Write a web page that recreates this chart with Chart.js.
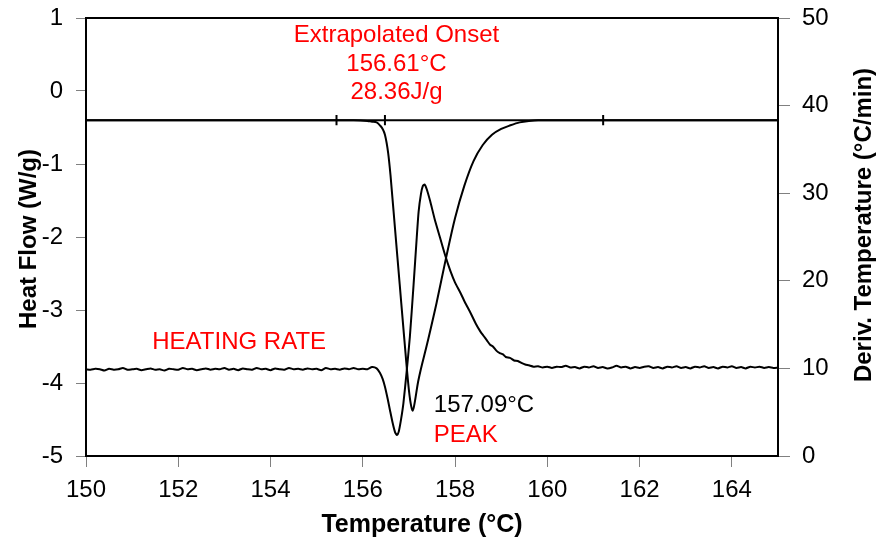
<!DOCTYPE html>
<html>
<head>
<meta charset="utf-8">
<script src="https://cdn.jsdelivr.net/npm/chart.js@4.4.1/dist/chart.umd.min.js"></script>
<style>
  html, body { margin: 0; padding: 0; background: #fff; }
  #wrap { width: 883px; height: 540px; }
</style>
</head>
<body>
<div id="wrap"><canvas id="dsc"></canvas></div>
<script>
// heat flow curve (left axis, W/g)
const hfTemp = [150, 155.8, 156.1, 156.2, 156.3, 156.37, 156.43, 156.48, 156.55, 156.6, 156.7, 156.8, 156.9, 157.0, 157.05, 157.08,
    157.11, 157.2, 157.4, 157.6, 157.8, 158.0, 158.2, 158.4, 158.6, 158.8, 159.0, 159.2, 159.4, 159.6, 159.8, 165]
const hfValue = [-0.40, -0.40, -0.41, -0.42, -0.43, -0.47, -0.52, -0.60, -0.85, -1.15, -1.90, -2.65, -3.40, -4.10, -4.32, -4.38,
    -4.32, -3.98, -3.45, -2.90, -2.30, -1.74, -1.30, -0.96, -0.74, -0.60, -0.52, -0.47, -0.43, -0.41, -0.40, -0.40]

// deriv. temperature (right axis, °C/min)
const dtTemp = [
    150.0, 150.1, 150.2, 150.3, 150.4, 150.5, 150.6, 150.7, 150.8, 150.9,
    151.0, 151.1, 151.2, 151.3, 151.4, 151.5, 151.6, 151.7, 151.8, 151.9,
    152.0, 152.1, 152.2, 152.3, 152.4, 152.5, 152.6, 152.7, 152.8, 152.9,
    153.0, 153.1, 153.2, 153.3, 153.4, 153.5, 153.6, 153.7, 153.8, 153.9,
    154.0, 154.1, 154.2, 154.3, 154.4, 154.5, 154.6, 154.7, 154.8, 154.9,
    155.0, 155.1, 155.2, 155.3, 155.4, 155.5, 155.6, 155.7, 155.8, 155.9,
    156.0, 156.1, 156.2, 156.3,
    156.37, 156.43, 156.48, 156.54, 156.59, 156.65, 156.70, 156.74, 156.78, 156.83,
    156.88, 156.95, 157.02, 157.10, 157.17, 157.21, 157.26, 157.30, 157.34, 157.39,
    157.46, 157.56, 157.67, 157.78, 157.90, 158.00, 158.11, 158.20, 158.32, 158.45,
    158.55, 158.62, 158.69, 158.76, 158.82, 158.90, 158.97, 159.04, 159.10, 159.19,
    159.28, 159.36, 159.45, 159.52,
    159.6, 159.7, 159.8, 159.9, 160.0, 160.1, 160.2, 160.3, 160.4, 160.5,
    160.6, 160.7, 160.8, 160.9, 161.0, 161.1, 161.2, 161.3, 161.4, 161.5,
    161.6, 161.7, 161.8, 161.9, 162.0, 162.1, 162.2, 162.3, 162.4, 162.5,
    162.6, 162.7, 162.8, 162.9, 163.0, 163.1, 163.2, 163.3, 163.4, 163.5,
    163.6, 163.7, 163.8, 163.9, 164.0, 164.1, 164.2, 164.3, 164.4, 164.5,
    164.6, 164.7, 164.8, 164.9, 165.0
]
const dtValue = [
    9.9, 9.85, 9.95, 9.9, 9.75, 9.95, 9.85, 9.9, 10.05, 9.85,
    9.9, 9.95, 9.8, 9.9, 10.0, 9.85, 9.9, 9.75, 9.95, 9.9,
    9.85, 10.05, 9.9, 9.95, 9.8, 9.9, 10.0, 9.85, 9.95, 9.9,
    10.05, 9.85, 9.95, 9.8, 10.0, 9.9, 9.85, 10.05, 9.9, 9.95,
    9.8, 10.0, 9.9, 9.85, 10.05, 9.9, 9.95, 9.85, 10.0, 9.9,
    9.95, 9.8, 10.05, 9.9, 9.95, 9.85, 10.0, 9.9, 10.05, 9.9,
    9.95, 9.9, 10.15, 10.0,
    9.5, 8.8, 7.9, 6.5, 5.2, 3.7, 2.7, 2.4, 2.8, 4.2,
    6.0, 9.6, 13.6, 19.5, 25.0, 27.9, 29.9, 30.8, 31.0, 30.4,
    29.1, 27.0, 25.0, 23.0, 21.1, 19.8, 18.7, 17.7, 16.5, 15.1,
    14.2, 13.7, 13.2, 12.7, 12.5, 12.0, 11.75, 11.6, 11.3, 11.2,
    10.9, 10.85, 10.6, 10.45,
    10.35, 10.2, 10.25, 10.1, 10.2, 10.05, 10.2, 10.15, 10.3, 10.1,
    10.15, 10.0, 10.2, 10.1, 10.25, 10.05, 10.15, 10.0, 10.1, 10.3,
    10.1, 10.2, 10.0, 10.15, 10.05, 10.2, 10.25, 10.05, 10.15, 10.0,
    10.2, 10.1, 10.25, 10.05, 10.15, 10.0, 10.2, 10.1, 10.25, 10.05,
    10.15, 10.0, 10.2, 10.1, 10.25, 10.05, 10.15, 10.0, 10.2, 10.1,
    10.2, 10.05, 10.15, 10.05, 10.1
]

// integration baseline and its limit marks
const baseTemp = [150, 165]
const baseValue = [-0.40, -0.40]
const markTemp = [155.43, 156.48, 161.21]
const markSpan = [-0.33, -0.47]

// text notes, anchored in data units (temperature, heat flow)
const notes = [
    { text: "Extrapolated Onset", x: 156.73, y: 0.666, color: "#ff0000", align: "center" },
    { text: "156.61°C", x: 156.73, y: 0.278, color: "#ff0000", align: "center" },
    { text: "28.36J/g", x: 156.73, y: -0.105, color: "#ff0000", align: "center" },
    { text: "HEATING RATE", x: 153.32, y: -3.53, color: "#ff0000", align: "center" },
    { text: "157.09°C", x: 157.54, y: -4.40, color: "#000000", align: "left" },
    { text: "PEAK", x: 157.54, y: -4.81, color: "#ff0000", align: "left" }
]

const xTitle = "Temperature (°C)"
const yTitle = "Heat Flow (W/g)"
const y2Title = "Deriv. Temperature (°C/min)"

const FONT = "'Liberation Sans', Arial, sans-serif"

function pts(xs, ys){
    return xs.map((x, i) => ({ x: x, y: ys[i] }))
}

const lineStyle = {
    borderColor: "#000",
    borderWidth: 2,
    pointRadius: 0,
    fill: false
}

const datasets = [
    Object.assign({ data: pts(baseTemp, baseValue), yAxisID: "y" }, lineStyle),
    Object.assign({ data: pts(hfTemp, hfValue), yAxisID: "y", cubicInterpolationMode: "monotone" }, lineStyle),
    Object.assign({ data: pts(dtTemp, dtValue), yAxisID: "y2", tension: 0.2 }, lineStyle)
]
markTemp.forEach(t => {
    datasets.push(Object.assign({ data: pts([t, t], markSpan), yAxisID: "y" }, lineStyle))
})

function rotatedText(ctx, text, x, y){
    ctx.save()
    ctx.translate(x, y)
    ctx.rotate(-Math.PI / 2)
    ctx.fillText(text, 0, 0)
    ctx.restore()
}

// fixed axis box sizes, no extra room for overhanging tick labels
function fixSize(w, h){
    return s => {
        if (w !== null) s.width = w
        if (h !== null) s.height = h
        s.paddingTop = 0
        s.paddingBottom = 0
        s.paddingLeft = 0
        s.paddingRight = 0
    }
}

const notesPlugin = {
    id: "notes",
    afterDatasetsDraw(chart){
        const ctx = chart.ctx
        const sx = chart.scales.x, sy = chart.scales.y
        const a = chart.chartArea
        ctx.save()
        ctx.font = "24px " + FONT
        ctx.textBaseline = "alphabetic"
        notes.forEach(n => {
            ctx.fillStyle = n.color
            ctx.textAlign = n.align
            ctx.fillText(n.text, sx.getPixelForValue(n.x), sy.getPixelForValue(n.y))
        })
        // axis titles
        ctx.fillStyle = "#000"
        ctx.textAlign = "center"
        ctx.textBaseline = "middle"
        ctx.font = "bold 25px " + FONT
        ctx.fillText(xTitle, (a.left + a.right) / 2 - 10, chart.height - 15)
        ctx.font = "bold 24px " + FONT
        rotatedText(ctx, yTitle, 29, (a.top + a.bottom) / 2 + 2)
        rotatedText(ctx, y2Title, chart.width - 19, (a.top + a.bottom) / 2 - 12)
        ctx.restore()
    }
}

new Chart(document.getElementById("dsc"), {
    type: "line",
    data: { datasets: datasets },
    options: {
        responsive: true,
        maintainAspectRatio: false,
        animation: false,
        layout: { padding: { top: 18, left: 0, right: 0, bottom: 0 } },
        plugins: {
            legend: { display: false },
            tooltip: { enabled: false }
        },
        scales: {
            x: {
                type: "linear",
                position: "bottom",
                min: 150,
                max: 165,
                afterFit: fixSize(null, 84),
                ticks: { stepSize: 2, includeBounds: false, color: "#000", padding: 9, font: { family: FONT, size: 24 } },
                grid: { drawOnChartArea: false, tickLength: 11, tickColor: "#808080", tickWidth: 1 },
                border: { color: "#000", width: 2 }
            },
            xTop: {
                type: "linear",
                position: "top",
                min: 150,
                max: 165,
                afterFit: fixSize(null, 0),
                ticks: { display: false },
                grid: { drawOnChartArea: false, drawTicks: false },
                border: { color: "#000", width: 2 }
            },
            y: {
                position: "left",
                min: -5,
                max: 1,
                afterFit: fixSize(86, null),
                ticks: { stepSize: 1, color: "#000", padding: 13, font: { family: FONT, size: 24 } },
                grid: { drawOnChartArea: false, tickLength: 10, tickColor: "#808080", tickWidth: 1 },
                border: { color: "#000", width: 2 }
            },
            y2: {
                position: "right",
                min: 0,
                max: 50,
                afterFit: fixSize(105, null),
                ticks: { stepSize: 10, color: "#000", padding: 12, font: { family: FONT, size: 24 } },
                grid: { drawOnChartArea: false, tickLength: 12, tickColor: "#808080", tickWidth: 1 },
                border: { color: "#000", width: 2 }
            }
        }
    },
    plugins: [notesPlugin]
})
</script>
</body>
</html>
